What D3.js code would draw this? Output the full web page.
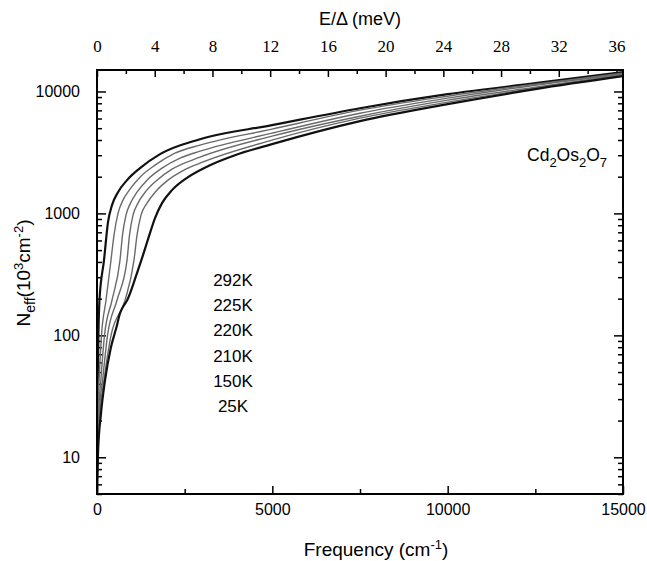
<!DOCTYPE html>
<html lang="en">
<head>
    <meta charset="utf-8">
    <script src="https://cdn.jsdelivr.net/npm/d3@7"></script>
    <style>
        body { margin: 0; background: white; }
        text { font-family: "Liberation Sans", Arial, sans-serif; fill: black; }
        .frame { fill: none; stroke: black; stroke-width: 2px; }
        .axis path { display: none; }
        .axis line { stroke: black; stroke-width: 1.5px; }
        .curve { fill: none; }
    </style>
</head>
<body>
<script>
    // [frequency (cm-1), N_eff (10^3 cm^-2)]
    const t292 = [[0, 5], [5, 11], [10, 23], [20, 43], [40, 100], [70, 194], [200, 414], [314, 848],
        [428, 1169], [599, 1494], [856, 1874], [1226, 2350], [1797, 3062], [2937, 4062], [4990, 5290],
        [7500, 7290], [10000, 9500], [12500, 11690], [15000, 14390]];
    const t225 = [[0, 5], [10, 11], [25, 23], [60, 43], [128, 100], [257, 194], [399, 414], [485, 663],
        [599, 1000], [741, 1285], [941, 1581], [1226, 1983], [1654, 2487], [2224, 3120], [2937, 3630],
        [4990, 4908], [7500, 7025], [10000, 9145], [12500, 11470], [15000, 14120]];
    const t220 = [[0, 5], [15, 11], [45, 23], [110, 43], [214, 100], [428, 194], [656, 414], [727, 663],
        [827, 968], [941, 1192], [1141, 1494], [1426, 1874], [1854, 2350], [2367, 2838], [2937, 3238],
        [4990, 4550], [7500, 6635], [10000, 8810], [12500, 11250], [15000, 13860]];
    const t210 = [[0, 5], [20, 11], [65, 23], [160, 43], [300, 100], [570, 194], [856, 414], [927, 663],
        [1027, 968], [1169, 1214], [1397, 1522], [1711, 1874], [2139, 2306], [2937, 2892],
        [4990, 4299], [7500, 6270], [10000, 8490], [12500, 10840], [15000, 13720]];
    const t150 = [[0, 5], [25, 11], [85, 23], [200, 43], [400, 100], [800, 194], [1055, 414], [1141, 663],
        [1255, 968], [1426, 1214], [1683, 1522], [2025, 1874], [2481, 2263], [2937, 2583],
        [4990, 3987], [7500, 6040], [10000, 8170], [12500, 10640], [15000, 13590]];
    const t25 = [[0, 5], [30, 11], [115, 23], [230, 43], [390, 78], [560, 118], [650, 150], [720, 167],
        [860, 194], [1140, 324], [1312, 455], [1483, 651], [1654, 915], [1854, 1214], [2139, 1552],
        [2595, 1983], [3222, 2487], [3935, 3004], [4990, 3697], [7500, 5706], [10000, 7870],
        [12500, 10450], [15000, 13340]];

    const temps = ['292K', '225K', '220K', '210K', '150K', '25K'];
    const series = [t292, t225, t220, t210, t150, t25];
    const freqTicks = [0, 5000, 10000, 15000];
    const freqMinor = [2500, 7500, 12500];
    const meVTicks = [0, 4, 8, 12, 16, 20, 24, 28, 32, 36];
    const meVMinor = [2, 6, 10, 14, 18, 22, 26, 30, 34];
    const neffTicks = [10, 100, 1000, 10000];

    const plotL = 97, plotR = 623, plotT = 70, plotB = 494;

    const svg = d3.select('body').append('svg')
        .attr('width', 647).attr('height', 561);

    const x = d3.scaleLinear().domain([0, 15000]).range([plotL, plotR]);
    const xTop = d3.scaleLinear().domain([0, 36.45]).range([plotL, plotR]);
    const y = d3.scaleLog().domain([5, 15000]).range([plotB, plotT]);

    // minor log ticks 2..9 per decade
    let neffMinor = [];
    [1, 10, 100, 1000, 10000].forEach(function (d) {
        for (let k = 2; k <= 9; k++) {
            if (d * k >= 5 && d * k <= 15000) neffMinor.push(d * k);
        }
    });

    // bottom axis
    svg.append('g').attr('class', 'axis').attr('transform', 'translate(0,' + plotB + ')')
        .call(d3.axisBottom(x).tickValues(freqTicks).tickSize(-8).tickPadding(10).tickFormat(d3.format('d')))
        .selectAll('text').attr('font-size', 16).style('font-family', '"Liberation Sans", Arial, sans-serif');
    svg.append('g').attr('class', 'axis').attr('transform', 'translate(0,' + plotB + ')')
        .call(d3.axisBottom(x).tickValues(freqMinor).tickSize(-5).tickFormat(''));

    // top axis (meV)
    svg.append('g').attr('class', 'axis').attr('transform', 'translate(0,' + plotT + ')')
        .call(d3.axisTop(xTop).tickValues(meVTicks).tickSize(-7).tickPadding(18))
        .selectAll('text').attr('font-size', 17)
        .style('font-family', '"Liberation Serif", "Times New Roman", serif');
    svg.append('g').attr('class', 'axis').attr('transform', 'translate(0,' + plotT + ')')
        .call(d3.axisTop(xTop).tickValues(meVMinor).tickSize(-4).tickFormat(''));

    // left axis
    svg.append('g').attr('class', 'axis').attr('transform', 'translate(' + plotL + ',0)')
        .call(d3.axisLeft(y).tickValues(neffTicks).tickSize(-9).tickPadding(17).tickFormat(d3.format('d')))
        .selectAll('text').attr('font-size', 16).style('font-family', '"Liberation Sans", Arial, sans-serif');
    svg.append('g').attr('class', 'axis').attr('transform', 'translate(' + plotL + ',0)')
        .call(d3.axisLeft(y).tickValues(neffMinor).tickSize(-5).tickFormat(''));

    // right axis
    svg.append('g').attr('class', 'axis').attr('transform', 'translate(' + plotR + ',0)')
        .call(d3.axisRight(y).tickValues(neffTicks).tickSize(-9).tickFormat(''));
    svg.append('g').attr('class', 'axis').attr('transform', 'translate(' + plotR + ',0)')
        .call(d3.axisRight(y).tickValues(neffMinor).tickSize(-5).tickFormat(''));

    svg.append('clipPath').attr('id', 'plot')
        .append('rect').attr('x', plotL).attr('y', plotT).attr('width', plotR - plotL).attr('height', plotB - plotT);

    const line = d3.line()
        .x(function (d) { return x(d[0]); })
        .y(function (d) { return y(d[1]); })
        .curve(d3.curveMonotoneX);

    svg.append('g').attr('clip-path', 'url(#plot)').selectAll('path')
        .data(series).enter().append('path')
        .attr('class', 'curve')
        .attr('d', line)
        .attr('stroke', function (d, i) { return (i === 0 || i === series.length - 1) ? '#111' : '#6a6a6a'; })
        .attr('stroke-width', function (d, i) { return (i === 0 || i === series.length - 1) ? 2.2 : 1.4; });

    svg.append('rect').attr('class', 'frame')
        .attr('x', plotL).attr('y', plotT).attr('width', plotR - plotL).attr('height', plotB - plotT);

    // temperature labels
    svg.append('g').selectAll('text').data(temps).enter().append('text')
        .attr('x', 233)
        .attr('y', function (d, i) { return 286 + i * 25.2; })
        .attr('text-anchor', 'middle')
        .attr('font-size', 17)
        .text(function (d) { return d; });

    // compound name
    const comp = svg.append('text').attr('x', 527).attr('y', 161).attr('font-size', 17.5);
    comp.append('tspan').text('Cd');
    comp.append('tspan').attr('dy', 6).attr('font-size', 13).text('2');
    comp.append('tspan').attr('dy', -6).text('Os');
    comp.append('tspan').attr('dy', 6).attr('font-size', 13).text('2');
    comp.append('tspan').attr('dy', -6).text('O');
    comp.append('tspan').attr('dy', 6).attr('font-size', 13).text('7');

    // axis titles
    svg.append('text').attr('x', 360).attr('y', 25).attr('text-anchor', 'middle')
        .attr('font-size', 18).text('E/\u0394 (meV)');

    const xt = svg.append('text').attr('x', 376).attr('y', 556).attr('text-anchor', 'middle').attr('font-size', 19);
    xt.append('tspan').text('Frequency (cm');
    xt.append('tspan').attr('dy', -7).attr('font-size', 13).text('-1');
    xt.append('tspan').attr('dy', 7).text(')');

    const yt = svg.append('text').attr('transform', 'translate(30,273) rotate(-90)')
        .attr('text-anchor', 'middle').attr('font-size', 19);
    yt.append('tspan').text('N');
    yt.append('tspan').attr('dy', 5).attr('font-size', 14).text('eff');
    yt.append('tspan').attr('dy', -5).text('(10');
    yt.append('tspan').attr('dy', -7).attr('font-size', 13).text('3');
    yt.append('tspan').attr('dy', 7).text('cm');
    yt.append('tspan').attr('dy', -7).attr('font-size', 13).text('-2');
    yt.append('tspan').attr('dy', 7).text(')');
</script>
</body>
</html>
